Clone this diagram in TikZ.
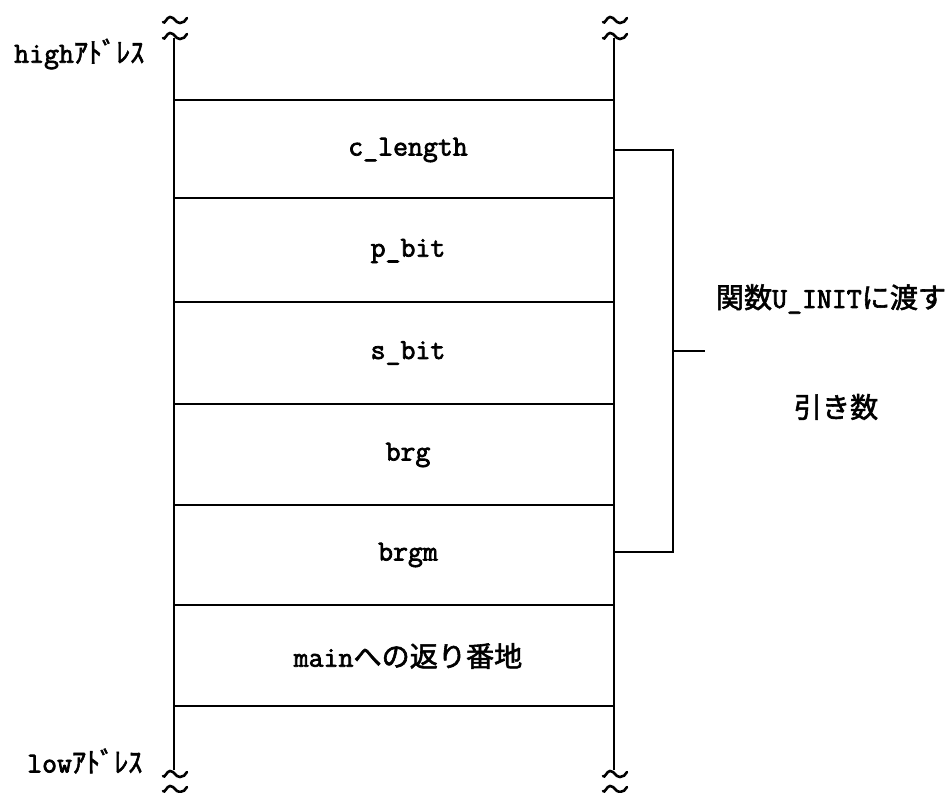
\documentclass[tikz,border=0pt]{standalone}
\usepackage{fontspec}
\setmonofont{Latin Modern Mono}[FakeBold=2.5]
\newfontfamily\cjk[Scale=0.97,FakeBold=2]{Noto Sans CJK JP}
\newcommand{\jp}[1]{{\cjk #1}}
\begin{document}
\begin{tikzpicture}[x=1pt,y=-1pt,
  every node/.style={inner sep=0pt,font=\ttfamily\fontsize{29}{32}\selectfont},
  cellline/.style={line width=2pt},
  wall/.style={line width=2.8pt},
  brk/.style={line width=2.2pt},
  tilde/.style={line width=2.6pt,line cap=round}]
\useasboundingbox (0,0) rectangle (952,792);
% walls
\coordinate (LT) at (174,38); \coordinate (LB) at (174,770);
\coordinate (RT) at (614,38); \coordinate (RB) at (614,770);
\draw[wall] (LT) -- (LB);
\draw[wall] (RT) -- (RB);
% tildes
\foreach \x in {175,615}{
  \foreach \y in {20,36,774,789}{
    \draw[tilde] (\x-12,\y+2) to[out=-60,in=180] (\x-5,\y-3) to[out=0,in=180] (\x+5,\y+3) to[out=0,in=240] (\x+12,\y-2);
  }
}
% cell lines
\foreach \y in {100,198,302,404,505,605,706}{
  \draw[cellline] (174,\y) -- (614,\y);
}
% labels
\node (c1) at (408,150) {c\_length};
\node (c2) at (408,251) {p\_bit};
\node (c3) at (408,353) {s\_bit};
\node (c4) at (408,455) {brg};
\node (c5) at (408,555) {brgm};
\node (c6) at (408,656) {main\jp{への返り番地}};
\node[anchor=west] (hi) at (14,54) {high\jp{ｱﾄﾞﾚｽ}};
\node[anchor=west] (lo) at (27,761) {low\jp{ｱﾄﾞﾚｽ}};
% bracket
\coordinate (b1) at (614,150);
\coordinate (b2) at (673,150);
\coordinate (b3) at (673,552);
\coordinate (b4) at (614,552);
\coordinate (bm) at (673,351);
\coordinate (bt) at (705,351);
\draw[brk] (b1) -- (b2) -- (b3) -- (b4);
\draw[brk] (bm) -- (bt);
\node (arg1) at (831,299) {\jp{関数}U\_INIT\jp{に渡す}};
\node (arg2) at (836,407) {\jp{引き数}};
\end{tikzpicture}
\end{document}
